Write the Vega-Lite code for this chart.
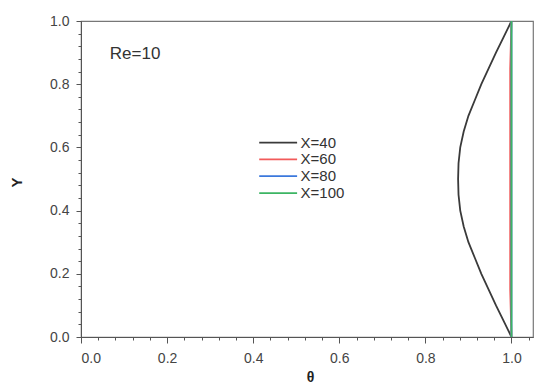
{
  "$schema": "https://vega.github.io/schema/vega-lite/v6.json",
  "width": 452,
  "height": 316,
  "autosize": "none",
  "padding": {"left": 81, "top": 21, "right": 6, "bottom": 46},
  "background": "white",
  "config": {
    "font": "Liberation Sans",
    "view": {"stroke": "#777", "strokeWidth": 1.2},
    "axis": {"grid": false, "domainColor": "#555", "tickColor": "#555", "labelColor": "#444", "labelFontSize": 14, "titleColor": "#222"}
  },
  "datasets": {
    "curves": [
      {"series": "X=40", "Y": 0.00, "theta": 1.000},
      {"series": "X=40", "Y": 0.05, "theta": 0.982},
      {"series": "X=40", "Y": 0.10, "theta": 0.964},
      {"series": "X=40", "Y": 0.15, "theta": 0.947},
      {"series": "X=40", "Y": 0.20, "theta": 0.930},
      {"series": "X=40", "Y": 0.25, "theta": 0.915},
      {"series": "X=40", "Y": 0.30, "theta": 0.900},
      {"series": "X=40", "Y": 0.35, "theta": 0.889},
      {"series": "X=40", "Y": 0.40, "theta": 0.881},
      {"series": "X=40", "Y": 0.45, "theta": 0.877},
      {"series": "X=40", "Y": 0.50, "theta": 0.876},
      {"series": "X=40", "Y": 0.55, "theta": 0.877},
      {"series": "X=40", "Y": 0.60, "theta": 0.881},
      {"series": "X=40", "Y": 0.65, "theta": 0.889},
      {"series": "X=40", "Y": 0.70, "theta": 0.900},
      {"series": "X=40", "Y": 0.75, "theta": 0.915},
      {"series": "X=40", "Y": 0.80, "theta": 0.930},
      {"series": "X=40", "Y": 0.85, "theta": 0.947},
      {"series": "X=40", "Y": 0.90, "theta": 0.964},
      {"series": "X=40", "Y": 0.95, "theta": 0.982},
      {"series": "X=40", "Y": 1.00, "theta": 1.000},
      {"series": "X=60", "Y": 0.00, "theta": 1.000},
      {"series": "X=60", "Y": 0.15, "theta": 0.997},
      {"series": "X=60", "Y": 0.50, "theta": 0.997},
      {"series": "X=60", "Y": 0.85, "theta": 0.997},
      {"series": "X=60", "Y": 1.00, "theta": 1.000},
      {"series": "X=80", "Y": 0.00, "theta": 1.000},
      {"series": "X=80", "Y": 0.50, "theta": 1.000},
      {"series": "X=80", "Y": 1.00, "theta": 1.000},
      {"series": "X=100", "Y": 0.00, "theta": 1.000},
      {"series": "X=100", "Y": 0.50, "theta": 1.000},
      {"series": "X=100", "Y": 1.00, "theta": 1.000}
    ],
    "legend": [
      {"series": "X=40", "x1": 0.414, "x2": 0.502, "xt": 0.510, "Y": 0.615},
      {"series": "X=60", "x1": 0.414, "x2": 0.502, "xt": 0.510, "Y": 0.562},
      {"series": "X=80", "x1": 0.414, "x2": 0.502, "xt": 0.510, "Y": 0.509},
      {"series": "X=100", "x1": 0.414, "x2": 0.502, "xt": 0.510, "Y": 0.455}
    ],
    "minorx": [
      {"v": 0.04}, {"v": 0.08}, {"v": 0.12}, {"v": 0.16},
      {"v": 0.24}, {"v": 0.28}, {"v": 0.32}, {"v": 0.36},
      {"v": 0.44}, {"v": 0.48}, {"v": 0.52}, {"v": 0.56},
      {"v": 0.64}, {"v": 0.68}, {"v": 0.72}, {"v": 0.76},
      {"v": 0.84}, {"v": 0.88}, {"v": 0.92}, {"v": 0.96},
      {"v": 1.04}
    ]
  },
  "layer": [
    {
      "data": {"name": "curves"},
      "mark": {"type": "line", "strokeWidth": 1.8, "clip": true},
      "encoding": {
        "x": {"field": "theta", "type": "quantitative", "scale": {"domain": [0, 1.05], "nice": false, "zero": false},
              "axis": {"values": [0, 0.2, 0.4, 0.6, 0.8, 1.0], "format": ".1f", "tickSize": 6, "labelPadding": 8, "title": "θ", "titleFontSize": 14, "titleFontWeight": "bold", "titleX": 229, "titleY": 33}},
        "y": {"field": "Y", "type": "quantitative", "scale": {"domain": [0, 1], "nice": false},
              "axis": {"values": [0, 0.2, 0.4, 0.6, 0.8, 1.0], "format": ".1f", "tickSize": 5, "labelPadding": 7, "title": "Y", "titleFontSize": 15, "titleFontWeight": "bold", "titleX": -57, "titleY": 161}},
        "color": {"field": "series", "type": "nominal", "legend": null,
                  "scale": {"domain": ["X=40", "X=60", "X=80", "X=100"], "range": ["#3a3a3a", "#f25a5a", "#3b78dc", "#3cb563"]}},
        "order": {"field": "Y", "type": "quantitative"}
      }
    },
    {
      "data": {"name": "minorx"},
      "mark": {"type": "tick", "opacity": 0},
      "encoding": {
        "x": {"field": "v", "type": "quantitative",
              "axis": {"values": [0.04,0.08,0.12,0.16,0.24,0.28,0.32,0.36,0.44,0.48,0.52,0.56,0.64,0.68,0.72,0.76,0.84,0.88,0.92,0.96,1.04], "labels": false, "tickSize": 3, "domain": false, "title": null, "orient": "bottom"}},
        "y": {"datum": 0, "type": "quantitative",
              "axis": {"values": [0.04,0.08,0.12,0.16,0.24,0.28,0.32,0.36,0.44,0.48,0.52,0.56,0.64,0.68,0.72,0.76,0.84,0.88,0.92,0.96], "labels": false, "tickSize": 3, "domain": false, "title": null, "orient": "left"}}
      }
    },
    {
      "data": {"name": "legend"},
      "mark": {"type": "rule", "strokeWidth": 1.8},
      "encoding": {
        "x": {"field": "x1", "type": "quantitative", "axis": null},
        "x2": {"field": "x2"},
        "y": {"field": "Y", "type": "quantitative", "axis": null},
        "color": {"field": "series", "type": "nominal", "legend": null}
      }
    },
    {
      "data": {"name": "legend"},
      "mark": {"type": "text", "align": "left", "baseline": "middle", "fontSize": 15, "color": "#333"},
      "encoding": {
        "x": {"field": "xt", "type": "quantitative", "axis": null},
        "y": {"field": "Y", "type": "quantitative", "axis": null},
        "text": {"field": "series"}
      }
    },
    {
      "data": {"values": [{"t": 0.067, "Y": 0.897, "label": "Re=10"}]},
      "mark": {"type": "text", "align": "left", "baseline": "middle", "fontSize": 17, "color": "#333"},
      "encoding": {
        "x": {"field": "t", "type": "quantitative", "axis": null},
        "y": {"field": "Y", "type": "quantitative", "axis": null},
        "text": {"field": "label"}
      }
    }
  ],
  "resolve": {"axis": {"x": "independent", "y": "independent"}}
}
